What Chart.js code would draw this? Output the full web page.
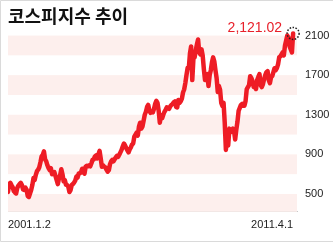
<!DOCTYPE html>
<html>
<head>
<meta charset="utf-8">
<script src="https://cdn.jsdelivr.net/npm/chart.js@4"></script>
<style>
  body { margin: 0; background: #fff; }
</style>
</head>
<body>
<canvas id="kospiChart" width="333" height="243"></canvas>
<script>
// 코스피지수, 반월 단위 (각 연도 24개 값: 1일, 15일 ...)
const years = [2001, 2002, 2003, 2004, 2005, 2006, 2007, 2008, 2009, 2010, 2011];
const kospi2001 = [521, 600, 612, 590, 570, 530, 515, 505, 560, 585, 600, 612, 590, 545, 540, 565, 545, 480, 470, 505, 540, 590, 660, 640];
const kospi2002 = [693, 730, 745, 770, 820, 880, 895, 930, 850, 830, 790, 760, 740, 760, 700, 715, 720, 680, 640, 600, 660, 690, 750, 700];
const kospi2003 = [628, 640, 595, 590, 575, 520, 540, 590, 600, 615, 635, 675, 665, 705, 710, 720, 755, 720, 705, 775, 785, 780, 790, 780];
const kospi2004 = [810, 845, 850, 880, 890, 860, 900, 935, 860, 775, 790, 775, 770, 745, 725, 740, 800, 830, 845, 830, 850, 870, 885, 875];
const kospi2005 = [896, 920, 945, 980, 1010, 990, 965, 940, 920, 950, 970, 1000, 1010, 1080, 1100, 1120, 1090, 1180, 1220, 1160, 1180, 1240, 1300, 1330];
const kospi2006 = [1379, 1400, 1340, 1320, 1335, 1325, 1360, 1410, 1440, 1420, 1340, 1220, 1295, 1265, 1300, 1330, 1350, 1375, 1370, 1360, 1385, 1400, 1410, 1425];
const kospi2007 = [1434, 1380, 1375, 1450, 1420, 1435, 1460, 1525, 1555, 1620, 1700, 1775, 1770, 1920, 1990, 1650, 1870, 1880, 1950, 2010, 2060, 1930, 1910, 1960];
const kospi2008 = [1897, 1760, 1650, 1700, 1710, 1590, 1700, 1750, 1830, 1880, 1840, 1750, 1670, 1530, 1590, 1550, 1420, 1390, 1420, 1220, 945, 1090, 990, 1160];
const kospi2009 = [1124, 1130, 1160, 1140, 1050, 1150, 1230, 1340, 1370, 1400, 1410, 1390, 1390, 1440, 1560, 1580, 1600, 1690, 1670, 1640, 1580, 1580, 1560, 1650];
const kospi2010 = [1682, 1710, 1600, 1580, 1610, 1660, 1700, 1730, 1740, 1650, 1620, 1680, 1690, 1730, 1770, 1750, 1770, 1810, 1880, 1890, 1910, 1930, 1900, 2000];
const kospi2011 = [2051, 2100, 2080, 1990, 1960, 1930, 2121.02];

const xTickLabels = ['2001.1.2', '2011.4.1'];
const yTicks = [500, 900, 1300, 1700, 2100];
const chartTitle = '코스피지수 추이';

const series = [kospi2001, kospi2002, kospi2003, kospi2004, kospi2005, kospi2006,
  kospi2007, kospi2008, kospi2009, kospi2010, kospi2011];

const points = [];
series.forEach((vals, k) => {
  vals.forEach((v, i) => points.push({ x: years[k] + i / 24, y: v }));
});
const firstX = points[0].x;
const lastPoint = points[points.length - 1];

const labelFont = { family: "'Liberation Sans', Arial, sans-serif", size: 11 };

// 분홍 줄무늬 배경
const bandsPlugin = {
  id: 'bands',
  beforeDatasetsDraw(chart) {
    const { ctx, chartArea: a } = chart;
    const y = chart.scales.y;
    const half = (yTicks[1] - yTicks[0]) / 2;
    ctx.save();
    ctx.fillStyle = '#fdefed';
    yTicks.forEach(t => {
      const top = Math.max(y.getPixelForValue(t), a.top);
      const bot = Math.min(y.getPixelForValue(t - half), a.bottom);
      ctx.fillRect(a.left, top, a.right - a.left, bot - top);
    });
    ctx.restore();
  }
};

// 마지막 값 표시 + 테두리
const markerPlugin = {
  id: 'marker',
  afterDatasetsDraw(chart) {
    const { ctx } = chart;
    const meta = chart.getDatasetMeta(0);
    const p = meta.data[meta.data.length - 1];
    ctx.save();
    ctx.setLineDash([1.5, 1.5]);
    ctx.lineWidth = 1.5;
    ctx.strokeStyle = '#222';
    ctx.beginPath();
    ctx.arc(p.x, p.y, 6, 0, Math.PI * 2);
    ctx.stroke();
    ctx.setLineDash([]);
    ctx.fillStyle = '#e8202a';
    ctx.font = "14px 'Liberation Sans', Arial, sans-serif";
    ctx.textAlign = 'right';
    ctx.textBaseline = 'alphabetic';
    const txt = lastPoint.y.toLocaleString('en-US', { minimumFractionDigits: 2, maximumFractionDigits: 2 });
    ctx.fillText(txt, p.x - 11, p.y - 1);
    ctx.restore();
  },
  afterDraw(chart) {
    const { ctx, width, height } = chart;
    ctx.save();
    ctx.strokeStyle = '#dadada';
    ctx.lineWidth = 1;
    ctx.beginPath();
    ctx.moveTo(width, 0.5); ctx.lineTo(0.5, 0.5);
    ctx.lineTo(0.5, height - 1.5); ctx.lineTo(width, height - 1.5);
    ctx.stroke();
    ctx.restore();
  }
};

const ctx = document.getElementById('kospiChart').getContext('2d');

new Chart(ctx, {
  type: 'line',
  data: {
    datasets: [{
      data: points,
      borderColor: '#ee1c25',
      borderWidth: 4.5,
      pointRadius: 0,
      tension: 0,
      borderJoinStyle: 'round',
      borderCapStyle: 'round'
    }]
  },
  options: {
    responsive: false,
    animation: false,
    layout: { padding: { left: 8, right: 0, top: 0, bottom: 4 } },
    plugins: {
      legend: { display: false },
      tooltip: { enabled: false },
      title: {
        display: true,
        text: chartTitle,
        align: 'start',
        color: '#111',
        font: { family: "'Noto Sans CJK KR', sans-serif", size: 18, weight: 'bold' },
        padding: { top: 5, bottom: 3 }
      }
    },
    scales: {
      x: {
        type: 'linear',
        min: 2001,
        max: 2011.39,
        grid: { display: false, drawTicks: false },
        border: { display: true, color: '#c8c8c8' },
        afterBuildTicks: scale => {
          scale.ticks = [{ value: firstX }, { value: lastPoint.x }];
        },
        ticks: {
          align: 'inner',
          padding: 7,
          maxRotation: 0,
          autoSkip: false,
          color: '#222',
          font: labelFont,
          callback: (v, i) => xTickLabels[i]
        }
      },
      y: {
        position: 'right',
        min: 320,
        max: 2160,
        grid: { display: false, drawTicks: false },
        border: { display: false },
        afterFit: scale => { scale.width = 36; },
        afterBuildTicks: scale => {
          scale.ticks = yTicks.map(v => ({ value: v }));
        },
        ticks: {
          padding: 8,
          color: '#222',
          font: labelFont,
          callback: v => String(v)
        }
      }
    }
  },
  plugins: [bandsPlugin, markerPlugin]
});
</script>
</body>
</html>
